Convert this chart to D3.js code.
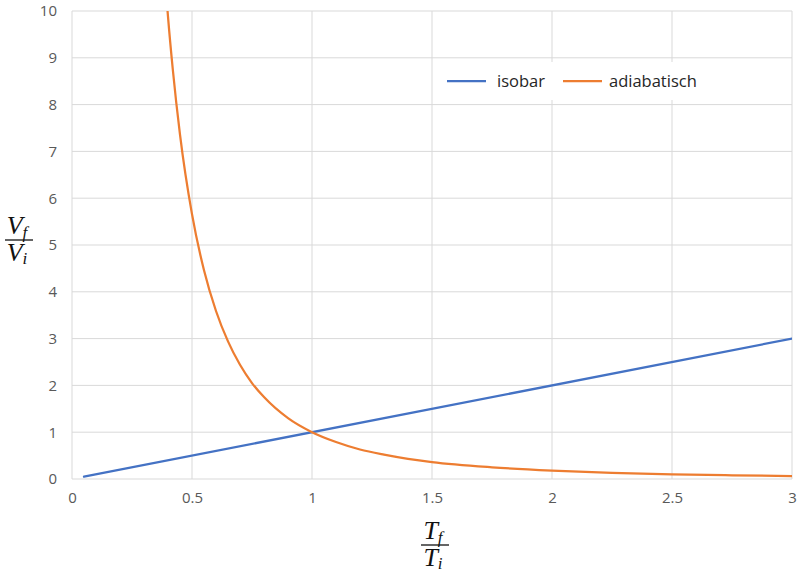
<!DOCTYPE html>
<html>
<head>
<meta charset="utf-8">
<script src="https://cdn.jsdelivr.net/npm/d3@7"></script>
<style>
  body { margin: 0; background: #fff; }
  svg { display: block; }
</style>
</head>
<body>
<svg id="chart"></svg>
<script>
// values
const isobarT = [0.05, 3];
const isobarV = [0.05, 3];

const adiaT = [0.395, 0.4, 0.42, 0.45, 0.5, 0.55, 0.6, 0.65, 0.7, 0.75, 0.8, 0.9, 1.0,
               1.1, 1.2, 1.3, 1.4, 1.5, 1.75, 2, 2.25, 2.5, 2.75, 3];
const adiaV = [10.2, 9.88, 8.75, 7.36, 5.66, 4.46, 3.59, 2.94, 2.44, 2.05, 1.75, 1.30, 1.0,
               0.79, 0.63, 0.52, 0.43, 0.36, 0.25, 0.18, 0.13, 0.10, 0.08, 0.064];

const xTicks = [0, 0.5, 1, 1.5, 2, 2.5, 3];
const yTicks = [0, 1, 2, 3, 4, 5, 6, 7, 8, 9, 10];
const seriesNames = ["isobar", "adiabatisch"];
const seriesColors = ["#4472C4", "#ED7D31"];

const width = 800, height = 577;
const margin = {left: 72, right: 8, top: 11, bottom: 98};

const svg = d3.select("#chart").attr("width", width).attr("height", height);

const x = d3.scaleLinear().domain([0, 3]).range([margin.left, width - margin.right]);
const y = d3.scaleLinear().domain([0, 10]).range([height - margin.bottom, margin.top]);

// grid
svg.append("g").selectAll("line").data(xTicks).enter().append("line")
  .attr("x1", d => x(d)).attr("x2", d => x(d))
  .attr("y1", y(0)).attr("y2", y(10))
  .attr("stroke", "#d9d9d9").attr("stroke-width", 1);
svg.append("g").selectAll("line").data(yTicks).enter().append("line")
  .attr("x1", x(0)).attr("x2", x(3))
  .attr("y1", d => y(d)).attr("y2", d => y(d))
  .attr("stroke", "#d9d9d9").attr("stroke-width", 1);

// axes (labels only)
const xAxis = svg.append("g").attr("transform", `translate(0,${y(0)})`)
  .call(d3.axisBottom(x).tickValues(xTicks).tickSize(0).tickPadding(13).tickFormat(d3.format("")));
const yAxis = svg.append("g").attr("transform", `translate(${x(0)},0)`)
  .call(d3.axisLeft(y).tickValues(yTicks).tickSize(0).tickPadding(15).tickFormat(d3.format("")));
[xAxis, yAxis].forEach(a => {
  a.select(".domain").remove();
  a.selectAll("text").attr("fill", "#595959").style("font-family", "'Open Sans', Lato, sans-serif").style("font-size", "15px");
});

// lines
svg.append("defs").append("clipPath").attr("id", "plot")
  .append("rect").attr("x", x(0)).attr("y", y(10)).attr("width", x(3) - x(0)).attr("height", y(0) - y(10));

const line = d3.line().x(d => x(d[0])).y(d => y(d[1])).curve(d3.curveMonotoneX);
const series = [
  d3.zip(isobarT, isobarV),
  d3.zip(adiaT, adiaV)
];
svg.append("g").attr("clip-path", "url(#plot)")
  .selectAll("path").data(series).enter().append("path")
  .attr("d", line)
  .attr("fill", "none")
  .attr("stroke", (d, i) => seriesColors[i])
  .attr("stroke-width", 2.25)
  .attr("stroke-linecap", "round");

// legend
const lg = svg.append("g").attr("transform", "translate(440,62)");
lg.append("rect").attr("width", 265).attr("height", 38).attr("fill", "#fff");
const items = lg.selectAll("g").data(seriesNames).enter().append("g")
  .attr("transform", (d, i) => `translate(${i === 0 ? 7 : 123},19)`);
items.append("line").attr("x1", 0).attr("x2", 39).attr("y1", 0).attr("y2", 0)
  .attr("stroke", (d, i) => seriesColors[i]).attr("stroke-width", 2.25);
items.append("text").attr("x", (d, i) => i === 0 ? 50 : 46).attr("y", 6).text(d => d)
  .attr("fill", "#262626").style("font-family", "'Open Sans', Lato, sans-serif").style("font-size", "16.5px");

// axis titles as fractions
function fraction(cx, cy, sym) {
  const g = svg.append("g").attr("transform", `translate(${cx},${cy})`)
    .style("font-family", "'Liberation Serif', 'DejaVu Serif', serif").style("font-style", "italic");
  const top = g.append("text").attr("x", -2).attr("y", -6).attr("text-anchor", "middle").attr("font-size", 26).attr("fill", "#111");
  top.append("tspan").text(sym);
  top.append("tspan").attr("dy", 4).attr("font-size", 17).text("f");
  g.append("line").attr("x1", -14).attr("x2", 14).attr("y1", 0).attr("y2", 0).attr("stroke", "#111").attr("stroke-width", 1.3);
  const bot = g.append("text").attr("x", -2).attr("y", 21).attr("text-anchor", "middle").attr("font-size", 26).attr("fill", "#111");
  bot.append("tspan").text(sym);
  bot.append("tspan").attr("dy", 3).attr("font-size", 17).text("i");
}
fraction(19, 240, "V");
fraction(435, 545, "T");
</script>
</body>
</html>
